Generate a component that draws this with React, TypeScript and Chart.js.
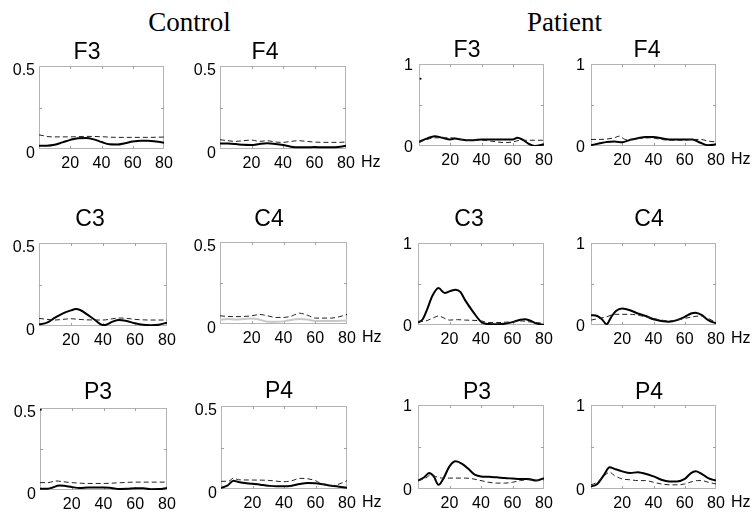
import React, { useEffect, useRef } from "react";
import { Chart, registerables } from "chart.js";

Chart.register(...registerables);

type Pt = [number, number];

// ---- axis values ----
const X_MIN = 0;
const X_MAX = 80;
const X_TICKS = [20, 40, 60, 80];
const CONTROL_Y_MAX = 0.5;
const PATIENT_Y_MAX = 1;
const GROUP_TITLES = ["Control", "Patient"];

// ---- Control group (solid = one condition, dashed = other) ----
const ctrlF3Solid: Pt[] = [[0, 0.02], [5, 0.02], [10, 0.025], [15, 0.04], [20, 0.055], [25, 0.065], [30, 0.066], [35, 0.058], [40, 0.042], [45, 0.028], [50, 0.027], [55, 0.035], [60, 0.045], [65, 0.05], [70, 0.05], [75, 0.045], [80, 0.038]];
const ctrlF3Dashed: Pt[] = [[0, 0.085], [3, 0.08], [5, 0.075], [10, 0.073], [20, 0.073], [30, 0.076], [40, 0.074], [50, 0.07], [60, 0.07], [70, 0.07], [80, 0.072]];

const ctrlF4Solid: Pt[] = [[0, 0.033], [5, 0.033], [10, 0.03], [15, 0.025], [20, 0.024], [25, 0.03], [30, 0.034], [35, 0.03], [40, 0.024], [45, 0.014], [50, 0.01], [55, 0.01], [60, 0.012], [65, 0.01], [70, 0.01], [75, 0.012], [80, 0.02]];
const ctrlF4Dashed: Pt[] = [[0, 0.056], [5, 0.05], [10, 0.046], [15, 0.05], [20, 0.054], [25, 0.046], [30, 0.05], [35, 0.042], [40, 0.04], [45, 0.046], [50, 0.05], [55, 0.046], [60, 0.042], [65, 0.04], [70, 0.04], [75, 0.04], [80, 0.042]];

const ctrlC3Solid: Pt[] = [[0, 0.01], [5, 0.02], [10, 0.05], [15, 0.076], [20, 0.094], [23, 0.102], [26, 0.095], [30, 0.07], [35, 0.036], [40, 0.006], [42, 0.008], [46, 0.026], [50, 0.036], [54, 0.032], [60, 0.016], [65, 0.007], [70, 0.005], [75, 0.008], [80, 0.02]];
const ctrlC3Dashed: Pt[] = [[0, 0.046], [5, 0.04], [10, 0.036], [15, 0.04], [20, 0.044], [25, 0.04], [30, 0.037], [40, 0.036], [45, 0.042], [50, 0.048], [55, 0.046], [60, 0.04], [70, 0.036], [80, 0.036]];

const ctrlC4Solid: Pt[] = [[0, 0.026], [5, 0.03], [10, 0.027], [15, 0.03], [20, 0.034], [25, 0.026], [30, 0.014], [35, 0.014], [40, 0.016], [45, 0.025], [50, 0.03], [55, 0.027], [60, 0.018], [70, 0.018], [80, 0.022]];
const ctrlC4Dashed: Pt[] = [[0, 0.05], [5, 0.046], [10, 0.045], [15, 0.046], [20, 0.05], [25, 0.058], [30, 0.05], [35, 0.04], [40, 0.04], [45, 0.048], [50, 0.066], [55, 0.054], [60, 0.036], [70, 0.036], [75, 0.044], [80, 0.058]];

const ctrlP3Solid: Pt[] = [[0, 0.008], [5, 0.008], [8, 0.015], [12, 0.028], [15, 0.026], [20, 0.018], [25, 0.012], [30, 0.015], [35, 0.016], [40, 0.016], [45, 0.012], [50, 0.006], [55, 0.007], [60, 0.01], [65, 0.01], [70, 0.005], [75, 0.006], [80, 0.012]];
const ctrlP3Dashed: Pt[] = [[0, 0.045], [5, 0.045], [10, 0.055], [15, 0.05], [20, 0.045], [30, 0.04], [40, 0.04], [50, 0.044], [60, 0.048], [70, 0.048], [80, 0.048]];
const ctrlP3Speck: Pt[] = [[0.5, 0.49]];

const ctrlP4Solid: Pt[] = [[0, 0.006], [4, 0.02], [8, 0.05], [11, 0.042], [15, 0.036], [20, 0.032], [25, 0.026], [30, 0.02], [35, 0.016], [40, 0.016], [45, 0.02], [50, 0.03], [55, 0.036], [60, 0.035], [65, 0.028], [70, 0.02], [75, 0.014], [80, 0.008]];
const ctrlP4Dashed: Pt[] = [[0, 0.046], [5, 0.048], [8, 0.066], [11, 0.056], [20, 0.054], [30, 0.052], [40, 0.044], [45, 0.05], [50, 0.064], [55, 0.062], [60, 0.05], [65, 0.026], [70, 0.02], [75, 0.03], [80, 0.05]];

// ---- Patient group ----
const patF3Solid: Pt[] = [[0, 0.05], [5, 0.09], [10, 0.12], [15, 0.1], [20, 0.08], [23, 0.09], [27, 0.08], [30, 0.07], [35, 0.07], [40, 0.08], [50, 0.08], [60, 0.08], [63, 0.1], [66, 0.08], [70, 0.03], [74, 0.0], [80, 0.02]];
const patF3Dashed: Pt[] = [[0, 0.05], [5, 0.08], [10, 0.1], [15, 0.1], [20, 0.1], [25, 0.09], [30, 0.07], [40, 0.07], [50, 0.05], [55, 0.04], [60, 0.05], [65, 0.07], [70, 0.07], [80, 0.07]];
const patF3Speck: Pt[] = [[1, 0.82]];

const patF4Solid: Pt[] = [[0, 0.01], [5, 0.03], [10, 0.05], [15, 0.055], [20, 0.045], [25, 0.075], [30, 0.095], [35, 0.11], [40, 0.11], [45, 0.095], [50, 0.08], [55, 0.08], [60, 0.08], [65, 0.08], [70, 0.04], [75, 0.01], [80, 0.02]];
const patF4Dashed: Pt[] = [[0, 0.08], [5, 0.08], [10, 0.085], [15, 0.1], [18, 0.12], [22, 0.08], [30, 0.09], [38, 0.1], [45, 0.08], [50, 0.07], [60, 0.07], [65, 0.08], [70, 0.08], [75, 0.06], [80, 0.05]];

const patC3Solid: Pt[] = [[0, 0.03], [3, 0.07], [6, 0.2], [9, 0.35], [13, 0.45], [17, 0.39], [20, 0.41], [24, 0.43], [27, 0.4], [30, 0.3], [35, 0.16], [40, 0.04], [43, 0.015], [50, 0.01], [55, 0.015], [60, 0.035], [65, 0.065], [68, 0.07], [71, 0.055], [75, 0.02], [80, 0.0]];
const patC3Dashed: Pt[] = [[0, 0.04], [5, 0.05], [10, 0.09], [13, 0.11], [16, 0.09], [20, 0.06], [25, 0.065], [30, 0.06], [40, 0.05], [45, 0.03], [50, 0.03], [60, 0.04], [65, 0.05], [70, 0.04], [80, 0.02]];

const patC4Solid: Pt[] = [[0, 0.12], [4, 0.11], [7, 0.07], [10, 0.01], [13, 0.1], [16, 0.17], [20, 0.2], [25, 0.18], [30, 0.14], [35, 0.11], [40, 0.07], [45, 0.05], [50, 0.04], [55, 0.06], [60, 0.1], [64, 0.14], [67, 0.15], [71, 0.12], [75, 0.06], [80, 0.02]];
const patC4Dashed: Pt[] = [[0, 0.06], [5, 0.08], [10, 0.1], [15, 0.13], [20, 0.13], [25, 0.13], [30, 0.12], [35, 0.1], [40, 0.08], [45, 0.06], [50, 0.05], [55, 0.06], [60, 0.08], [65, 0.1], [70, 0.11], [75, 0.08], [80, 0.03]];

const patP3Solid: Pt[] = [[0, 0.1], [4, 0.14], [7, 0.19], [10, 0.15], [13, 0.05], [16, 0.12], [20, 0.27], [24, 0.33], [28, 0.3], [32, 0.24], [36, 0.17], [40, 0.15], [45, 0.145], [50, 0.14], [55, 0.13], [60, 0.125], [65, 0.12], [70, 0.12], [75, 0.1], [80, 0.13]];
const patP3Dashed: Pt[] = [[0, 0.1], [5, 0.13], [8, 0.17], [11, 0.15], [15, 0.13], [20, 0.13], [30, 0.13], [35, 0.12], [40, 0.1], [45, 0.08], [50, 0.07], [55, 0.07], [60, 0.08], [65, 0.1], [70, 0.11], [75, 0.1], [80, 0.11]];

const patP4Solid: Pt[] = [[0, 0.03], [4, 0.06], [8, 0.16], [12, 0.26], [15, 0.24], [20, 0.21], [25, 0.19], [30, 0.2], [33, 0.19], [40, 0.15], [45, 0.11], [50, 0.09], [55, 0.09], [60, 0.12], [64, 0.19], [67, 0.21], [70, 0.19], [75, 0.13], [80, 0.1]];
const patP4Dashed: Pt[] = [[0, 0.05], [4, 0.08], [8, 0.15], [12, 0.2], [15, 0.16], [20, 0.12], [25, 0.11], [30, 0.1], [35, 0.1], [40, 0.08], [45, 0.06], [50, 0.05], [55, 0.05], [60, 0.06], [65, 0.09], [68, 0.1], [71, 0.1], [75, 0.08], [80, 0.06]];

// ---- layout (page pixels) ----
interface Panel {
  title: string;
  solid: Pt[];
  dashed: Pt[];
  speck?: Pt[];
  yMax: number;
  rect: [number, number, number, number];
  tdx: number;
  tdy: number;
  hz: boolean;
  solidColor: string;
  patient: boolean;
}

const BLACK = "#000000";
const PANELS: Panel[] = [
  { title: "F3", solid: ctrlF3Solid, dashed: ctrlF3Dashed, yMax: CONTROL_Y_MAX, rect: [39, 66, 164, 149], tdx: -14.5, tdy: -13, hz: false, solidColor: BLACK, patient: false },
  { title: "F4", solid: ctrlF4Solid, dashed: ctrlF4Dashed, yMax: CONTROL_Y_MAX, rect: [220, 66, 346, 149], tdx: -18, tdy: -13, hz: true, solidColor: BLACK, patient: false },
  { title: "F3", solid: patF3Solid, dashed: patF3Dashed, speck: patF3Speck, yMax: PATIENT_Y_MAX, rect: [419, 64, 544, 146], tdx: -14.5, tdy: -13, hz: false, solidColor: BLACK, patient: true },
  { title: "F4", solid: patF4Solid, dashed: patF4Dashed, yMax: PATIENT_Y_MAX, rect: [591, 64, 716, 146], tdx: -6.5, tdy: -13, hz: true, solidColor: BLACK, patient: true },
  { title: "C3", solid: ctrlC3Solid, dashed: ctrlC3Dashed, yMax: CONTROL_Y_MAX, rect: [39, 243, 167, 326], tdx: -13, tdy: -23, hz: false, solidColor: BLACK, patient: false },
  { title: "C4", solid: ctrlC4Solid, dashed: ctrlC4Dashed, yMax: CONTROL_Y_MAX, rect: [220, 242, 347, 324], tdx: -14.5, tdy: -22, hz: true, solidColor: "#c8c8c8", patient: false },
  { title: "C3", solid: patC3Solid, dashed: patC3Dashed, yMax: PATIENT_Y_MAX, rect: [418, 243, 544, 325], tdx: -12, tdy: -23, hz: false, solidColor: BLACK, patient: true },
  { title: "C4", solid: patC4Solid, dashed: patC4Dashed, yMax: PATIENT_Y_MAX, rect: [591, 243, 716, 325], tdx: -4.5, tdy: -23, hz: true, solidColor: BLACK, patient: true },
  { title: "P3", solid: ctrlP3Solid, dashed: ctrlP3Dashed, speck: ctrlP3Speck, yMax: CONTROL_Y_MAX, rect: [40, 408, 167, 490], tdx: -5.5, tdy: -15, hz: false, solidColor: BLACK, patient: false },
  { title: "P4", solid: ctrlP4Solid, dashed: ctrlP4Dashed, yMax: CONTROL_Y_MAX, rect: [221, 406, 347, 489], tdx: -5, tdy: -14, hz: true, solidColor: BLACK, patient: false },
  { title: "P3", solid: patP3Solid, dashed: patP3Dashed, yMax: PATIENT_Y_MAX, rect: [418, 405, 544, 489], tdx: -4, tdy: -12, hz: false, solidColor: BLACK, patient: true },
  { title: "P4", solid: patP4Solid, dashed: patP4Dashed, yMax: PATIENT_Y_MAX, rect: [591, 405, 716, 489], tdx: -4.5, tdy: -12, hz: true, solidColor: BLACK, patient: true },
];

const PAD_LEFT = 50;
const PAD_TOP = 45;
const PAD_RIGHT = 45;
const PAD_BOTTOM = 25;
const SANS = '"Liberation Sans", Arial, sans-serif';
const SERIF = '"Liberation Serif", "Times New Roman", serif';

const panelDecor = {
  id: "panelDecor",
  beforeDatasetsDraw(chart: any, _args: any, opts: any) {
    const { ctx, chartArea: a, scales } = chart;
    ctx.save();
    ctx.strokeStyle = "#b4b4b4";
    ctx.lineWidth = 1;
    ctx.strokeRect(Math.round(a.left) + 0.5, Math.round(a.top) + 0.5, Math.round(a.right - a.left) - 1, Math.round(a.bottom - a.top) - 1);
    ctx.strokeStyle = "#a0a0a0";
    ctx.beginPath();
    for (const v of [20, 40, 60]) {
      const x = Math.round(scales.x.getPixelForValue(v)) + 0.5;
      ctx.moveTo(x, a.top);
      ctx.lineTo(x, a.top + 3);
      ctx.moveTo(x, a.bottom);
      ctx.lineTo(x, a.bottom - 3);
    }
    const ym = Math.round(scales.y.getPixelForValue(opts.yMax / 2)) + 0.5;
    ctx.moveTo(a.left, ym);
    ctx.lineTo(a.left + 3, ym);
    ctx.moveTo(a.right, ym);
    ctx.lineTo(a.right - 3, ym);
    ctx.stroke();
    ctx.restore();
  },
  afterDraw(chart: any, _args: any, opts: any) {
    const { ctx, chartArea: a } = chart;
    ctx.save();
    ctx.fillStyle = "#000";
    ctx.textAlign = "center";
    ctx.textBaseline = "middle";
    ctx.font = `23px ${SANS}`;
    ctx.fillText(opts.title, (a.left + a.right) / 2 + opts.tdx, a.top + opts.tdy);
    if (opts.hz) {
      ctx.font = `16px ${SANS}`;
      ctx.textAlign = "left";
      ctx.fillText("Hz", a.right + 15, a.bottom + 14);
    }
    ctx.restore();
  },
};

function PanelChart({ p }: { p: Panel }) {
  const ref = useRef<HTMLCanvasElement>(null);
  const [L, T, R, B] = p.rect;
  const width = R - L + PAD_LEFT + PAD_RIGHT;
  const height = B - T + PAD_TOP + PAD_BOTTOM;

  useEffect(() => {
    if (!ref.current) return;
    const toXY = (arr: Pt[]) => arr.map(([x, y]) => ({ x, y }));
    const datasets: any[] = [
      {
        data: toXY(p.dashed),
        borderColor: "#222222",
        borderWidth: 1,
        borderDash: [5, 3],
        pointRadius: 0,
        cubicInterpolationMode: "monotone",
        fill: false,
      },
      {
        data: toXY(p.solid),
        borderColor: p.solidColor,
        borderWidth: 2,
        pointRadius: 0,
        cubicInterpolationMode: "monotone",
        fill: false,
      },
    ];
    if (p.speck) {
      datasets.push({
        data: toXY(p.speck),
        showLine: false,
        pointRadius: 1,
        pointBackgroundColor: "#000",
        pointBorderWidth: 0,
      });
    }
    const yMax = p.yMax;
    const chart = new Chart(ref.current, {
      type: "line",
      data: { datasets },
      options: {
        responsive: false,
        animation: false,
        devicePixelRatio: 1,
        layout: { padding: { left: 0, top: PAD_TOP, right: PAD_RIGHT, bottom: 0 } },
        plugins: {
          legend: { display: false },
          tooltip: { enabled: false },
          title: { display: false },
          panelDecor: { title: p.title, tdx: p.tdx, tdy: p.tdy, hz: p.hz, yMax },
        } as any,
        scales: {
          x: {
            type: "linear",
            min: X_MIN,
            max: X_MAX,
            afterBuildTicks: (s: any) => {
              s.ticks = X_TICKS.map((v) => ({ value: v }));
            },
            afterFit: (s: any) => {
              s.height = PAD_BOTTOM;
            },
            grid: { display: false, drawTicks: false },
            border: { display: false },
            ticks: {
              color: "#000",
              font: { family: SANS, size: 16 },
              padding: 5,
              maxRotation: 0,
              autoSkip: false,
              callback: (v: any) => String(v),
            },
          },
          y: {
            type: "linear",
            min: 0,
            max: yMax,
            afterBuildTicks: (s: any) => {
              s.ticks = [{ value: 0 }, { value: yMax }];
            },
            afterFit: (s: any) => {
              s.width = PAD_LEFT;
            },
            grid: { display: false, drawTicks: false },
            border: { display: false },
            ticks: {
              color: "#000",
              font: { family: SANS, size: 16 },
              padding: p.patient ? 6 : 4,
              labelOffset: p.patient ? 2 : 5,
              callback: (v: any) => String(v),
            },
          },
        },
      } as any,
      plugins: [panelDecor as any],
    });
    return () => chart.destroy();
  }, [p]);

  return (
    <canvas
      ref={ref}
      width={width}
      height={height}
      style={{ position: "absolute", left: L - PAD_LEFT, top: T - PAD_TOP, width, height }}
    />
  );
}

export default function App() {
  return (
    <div style={{ position: "fixed", left: 0, top: 0, width: 754, height: 514, background: "#fff", overflow: "hidden" }}>
      <div style={{ position: "absolute", left: 89.5, top: 9, width: 200, textAlign: "center", font: `27px/27px ${SERIF}`, color: "#000" }}>
        {GROUP_TITLES[0]}
      </div>
      <div style={{ position: "absolute", left: 464.5, top: 9, width: 200, textAlign: "center", font: `27px/27px ${SERIF}`, color: "#000" }}>
        {GROUP_TITLES[1]}
      </div>
      {PANELS.map((p, i) => (
        <PanelChart key={i} p={p} />
      ))}
    </div>
  );
}
